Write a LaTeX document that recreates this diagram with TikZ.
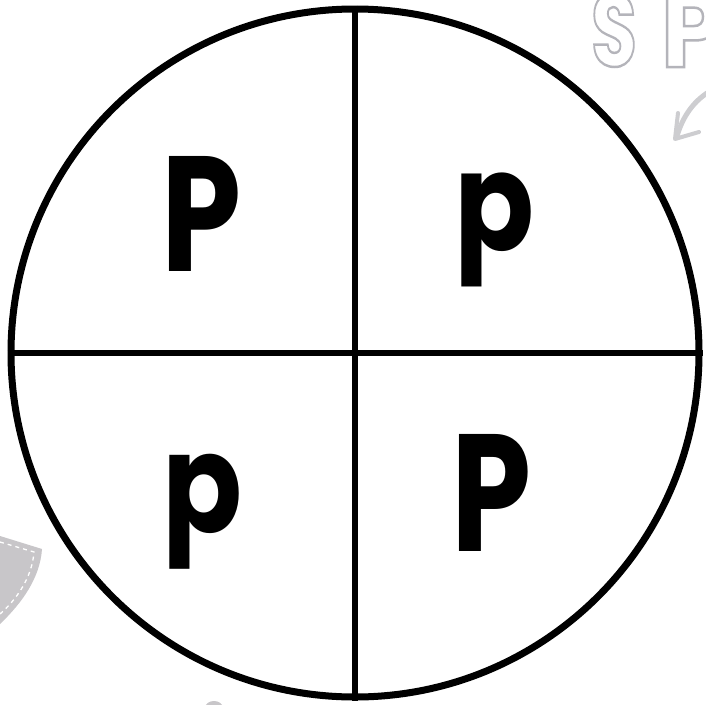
\documentclass[tikz,border=0pt]{standalone}
\usepackage{fontspec}
\setmainfont{Poppins}
\usepackage{graphicx}
\definecolor{outlinegray}{RGB}{180,180,186}
\definecolor{arrowgray}{RGB}{205,205,208}
\definecolor{shapegray}{RGB}{200,198,201}
\newcommand{\bigletter}[3]{\resizebox*{#1}{#2}{#3}}
\newcommand{\outletter}[3]{\resizebox*{#1}{#2}{\special{pdf:literal direct 1 Tr 0.24 w}#3\special{pdf:literal direct 0 Tr}}}
\tikzset{
  letter/.style={inner sep=0pt, outer sep=0pt, font=\bfseries, text=black},
  ring/.style={draw=black, circle, line width=7pt, inner sep=0pt, minimum size=688pt},
  divider/.style={draw=black, line width=6pt},
  ghost/.style={inner sep=0pt, outer sep=0pt, font=\bfseries, text=outlinegray},
}
\begin{document}
\begin{tikzpicture}[x=1pt,y=-1pt]
\clip (0,0) rectangle (706,704);
\fill[white] (0,0) rectangle (706,704);
% background remnants
\node[ghost] (gs) at (614,30) {\outletter{46pt}{74pt}{S}};
\node[ghost] (gp) at (692,30) {\outletter{62pt}{74pt}{P}};
\draw[arrowgray, line width=5pt, line cap=round] (712,90) .. controls (694,100) and (683,116) .. (677,136);
\draw[arrowgray, line width=4pt, line cap=round, line join=round] (678,113) -- (675,139) -- (699,132);
\fill[shapegray] (0,536) -- (42,549) .. controls (40,578) and (22,603) .. (0,624) -- cycle;
\draw[white, line width=1.3pt, dash pattern=on 4pt off 4pt] (0,542) -- (34,552) .. controls (32,578) and (16,600) .. (0,614);
\fill[shapegray] (214,708) ellipse (9pt and 7pt);
% circle and dividers
\node[ring] (disc) at (355,353) {};
\draw[divider] (disc.north) -- (disc.south);
\draw[divider] (disc.west) -- (disc.east);
% letters
\node[letter] (tl) at (202,214) {\bigletter{80pt}{115pt}{P}};
\node[letter] (tr) at (494,230) {\bigletter{80pt}{114pt}{p}};
\node[letter] (bl) at (203,512) {\bigletter{80pt}{115pt}{p}};
\node[letter] (br) at (492,493) {\bigletter{80pt}{117pt}{P}};
\end{tikzpicture}
\end{document}
